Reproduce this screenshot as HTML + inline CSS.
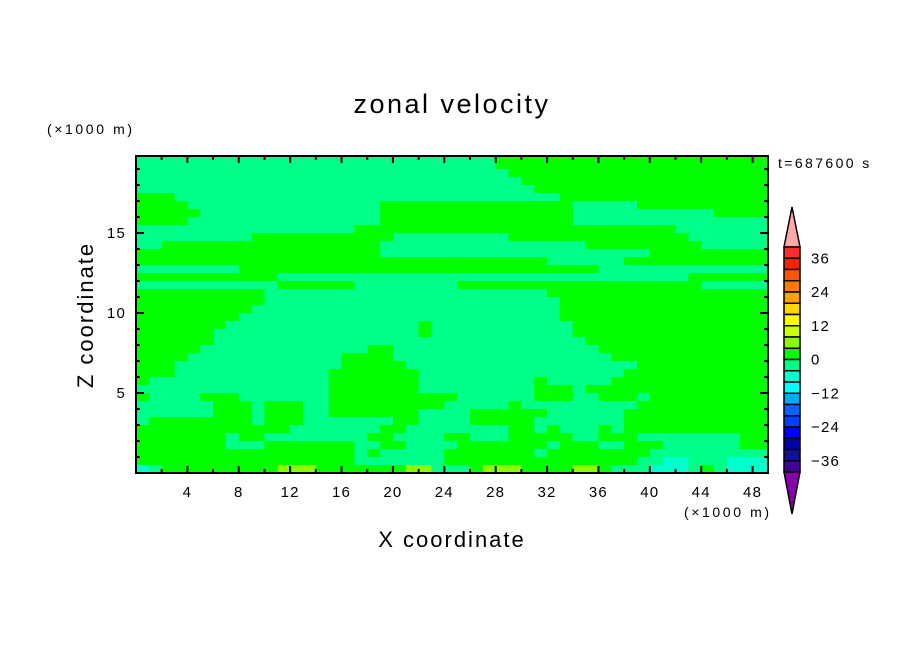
<!DOCTYPE html>
<html><head><meta charset="utf-8">
<style>
html,body{margin:0;padding:0;background:#fff;}
svg{display:block;font-family:"Liberation Sans","DejaVu Sans",sans-serif;}
</style></head>
<body>
<svg id="chart" width="904" height="654" viewBox="0 0 904 654">
  <defs><clipPath id="plotclip"><rect x="136" y="156" width="632" height="317"/></clipPath></defs>
  <g id="field" clip-path="url(#plotclip)"></g>
  <g id="axes"></g>
  <g id="cbar"></g>
  <text x="452" y="113" text-anchor="middle" font-size="27" letter-spacing="2.5">zonal velocity</text>
  <text x="47" y="134" font-size="14" letter-spacing="2.6">(×1000 m)</text>
  <text x="684" y="517" font-size="14" letter-spacing="2.6">(×1000 m)</text>
  <text x="778" y="168" font-size="14" letter-spacing="2.4">t=687600 s</text>
  <text x="452" y="547" text-anchor="middle" font-size="22" letter-spacing="2">X coordinate</text>
  <text transform="translate(93,315) rotate(-90)" text-anchor="middle" font-size="22" letter-spacing="2">Z coordinate</text>
</svg>
<script>
// Field rows (z from 20 down to 0, 0.5 km each), run-length coded per 1 km column
// codes: m = -2, g = 2, y = 6, c = -6 (m/s)
const rows = [
"m28 g22","m28 g22","m29 g21","m30 g20","m31 g19",
"g3 m30 g17","g4 m15 g15 m5 g11","g5 m14 g15 m11 g5","g4 m15 g15 m16","m17 g25 m8",
"m9 g11 m9 g14 m7","m2 g17 m16 g9 m6","g19 m21 g10","g32 m6 g12","m8 g28 m14",
"g11 m32 g7","m11 g6 m8 g19 m6","g10 m22 g18","g10 m23 g17","g9 m24 g17",
"g8 m25 g17","g7 m15 g1 m11 g16","g6 m16 g1 m11 g16","g6 m29 g15","g5 m13 g2 m16 g14",
"g4 m12 g4 m17 g13","g3 m13 g5 m18 g11","g3 m12 g7 m16 g12","g1 m14 g7 m9 g1 m5 g13","m15 g7 m9 g3 m1 g15",
"g1 m4 g3 m7 g10 m6 g3 m2 g3 m1 g10","m6 g3 m1 g3 m2 g9 m5 g1 m9 g11","m6 g3 m1 g3 m2 g7 m4 g6 m6 g12","m1 g8 m1 g3 m7 g2 m4 g5 m7 g12","g12 m7 g2 m8 g2 m1 g1 m3 g1 m1 g12",
"g7 m1 g2 m8 g2 m4 g2 m3 g5 m2 g3 m8 g3","g7 m3 g7 m2 g2 m4 g7 m1 g3 m2 g3 m6 g3","g17 m1 g1 m5 g7 m1 g8 m10","g17 m7 g15 m2 c2 m3 c4","c1 m1 g9 y3 g7 y2 m3 g1 y3 g4 y2 g1 m3 c3 m1 g1 m1 c4"
];
const codeValues = {m:-2, g:2, y:6, c:-6};
const levels = [40,36,32,28,24,20,16,12,8,4,0,-4,-8,-12,-16,-20,-24,-28,-32,-36,-40];
const levelColors = ["#ff2a2a","#ff2000","#ff5500","#ff7a00","#ffa200","#ffd800","#ffff00","#ccff00","#88ff00","#00ff00","#00ff88","#00ffcc","#00ffff","#00aaff","#0066ff","#0040ff","#0000ff","#0000aa","#10109c","#440099"];
const cbarLabels = [36,24,12,0,-12,-24,-36];
const xTickLabels = [4,8,12,16,20,24,28,32,36,40,44,48];
const yTickLabels = [5,10,15];

const NS="http://www.w3.org/2000/svg";
const X0=136,X1=768,Y0=473,XMAX=49.2;
function xs(v){return X0+v*(X1-X0)/XMAX;}
function ys(z){return Y0-z*16;}
function colorFor(v){for(let i=0;i<levels.length-1;i++){if(v<=levels[i]&&v>levels[i+1])return levelColors[i];}return "#fff";}
function mk(tag,attrs,parent){const e=document.createElementNS(NS,tag);for(const k in attrs)e.setAttribute(k,attrs[k]);parent.appendChild(e);return e;}

const field=document.getElementById('field');
rows.forEach((r,ri)=>{
  const zTop=20-ri*0.5;
  let col=0;
  r.split(' ').forEach(tok=>{
    const n=parseInt(tok.slice(1));
    const v=codeValues[tok[0]];
    const right = (col+n>=50)? XMAX+1 : col+n;
    const rect=mk('rect',{x:xs(col),y:ys(zTop),width:xs(right)-xs(col)+0.6,height:8.6,fill:colorFor(v)},field);
    
    
    col+=n;
  });
});

const axes=document.getElementById('axes');
const frame=mk('rect',{x:X0,y:156,width:X1-X0,height:Y0-156,fill:"none",stroke:"#000","stroke-width":2},axes);


for(let v=2;v<XMAX;v+=2){
  const len=(v%4===0)?7:4;
  mk('line',{x1:xs(v),x2:xs(v),y1:Y0,y2:Y0-len,stroke:"#000","stroke-width":2},axes);
  mk('line',{x1:xs(v),x2:xs(v),y1:156,y2:156+len,stroke:"#000","stroke-width":2},axes);
}
for(let z=1;z<20;z++){
  const len=(z%5===0)?8:4;
  mk('line',{x1:X0,x2:X0+len,y1:ys(z),y2:ys(z),stroke:"#000","stroke-width":2},axes);
  mk('line',{x1:X1,x2:X1-len,y1:ys(z),y2:ys(z),stroke:"#000","stroke-width":2},axes);
}
xTickLabels.forEach(v=>{
  const t=mk('text',{x:xs(v),y:497,"text-anchor":"middle","font-size":15,"letter-spacing":1.2},axes);
  t.textContent=v;
  
  
});
yTickLabels.forEach(v=>{
  const t=mk('text',{x:126,y:ys(v)+5,"text-anchor":"end","font-size":15,"letter-spacing":1.2},axes);
  t.textContent=v;
  
  
});

const cbar=document.getElementById('cbar');
const CB0=247,CB1=472,CX0=784,CX1=800;
function cy(v){return CB0+(40-v)/80*(CB1-CB0);}
const up=mk('polygon',{points:`${CX0},${CB0} ${CX1},${CB0} ${(CX0+CX1)/2},207`,fill:"#ffaaaa",stroke:"#000","stroke-width":1.5},cbar);


const dn=mk('polygon',{points:`${CX0},${CB1} ${CX1},${CB1} ${(CX0+CX1)/2},514`,fill:"#8800aa",stroke:"#000","stroke-width":1.5},cbar);


for(let i=0;i<levelColors.length;i++){
  const b=mk('rect',{x:CX0,y:cy(levels[i]),width:CX1-CX0,height:cy(levels[i+1])-cy(levels[i]),fill:levelColors[i],stroke:"#000","stroke-width":1.5},cbar);
  
  
}
cbarLabels.forEach(v=>{
  const t=mk('text',{x:811,y:cy(v)+5,"font-size":15,"letter-spacing":1.2},cbar);
  t.textContent=(v<0?"\u2212"+(-v):v);
  
  
});
</script>
</body></html>
